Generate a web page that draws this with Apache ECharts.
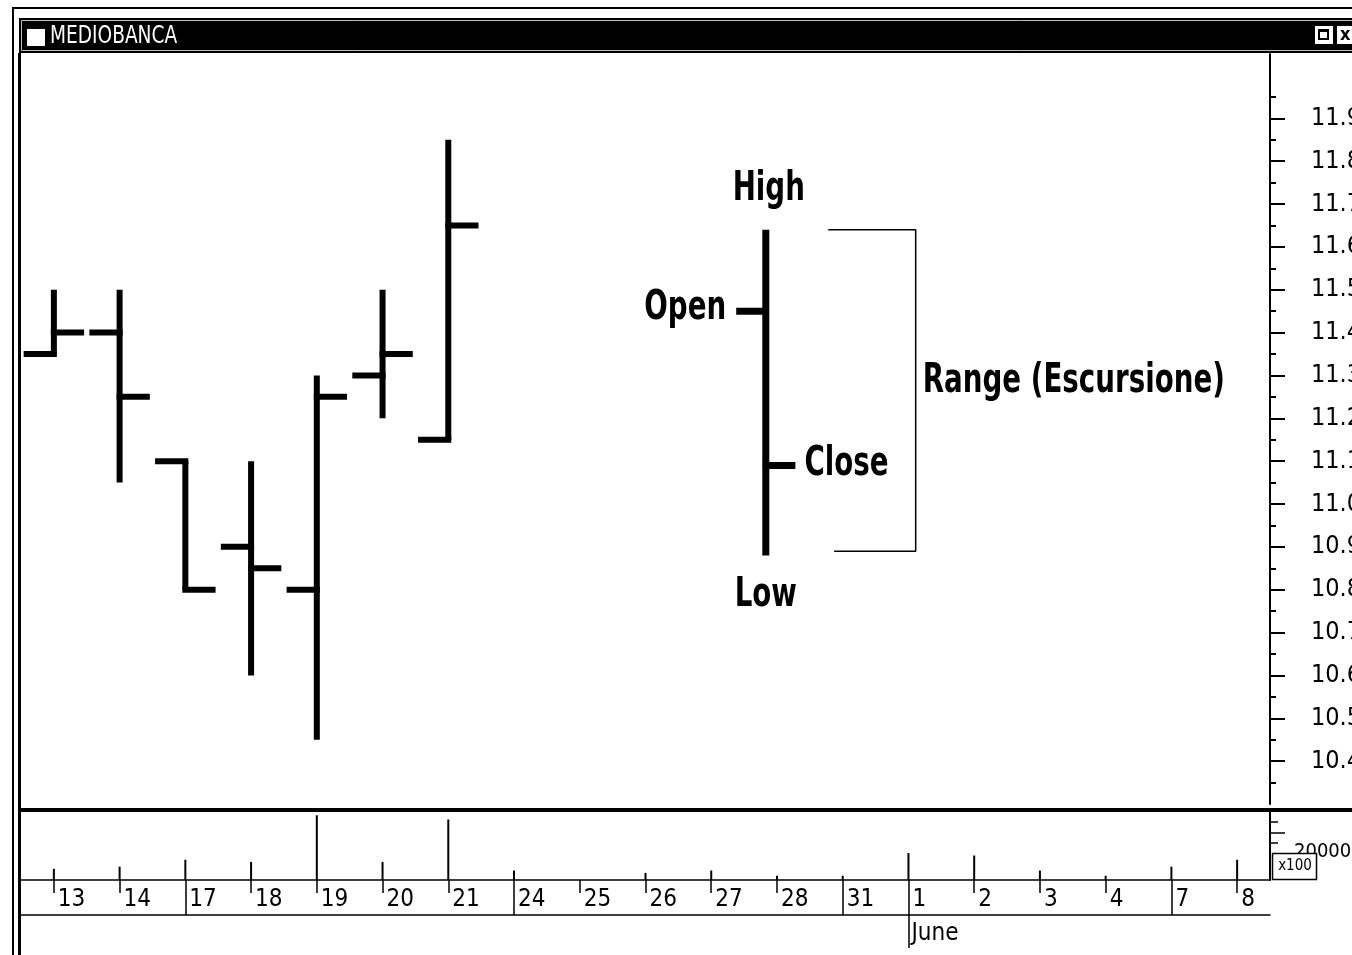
<!DOCTYPE html>
<html><head><meta charset="utf-8">
<script src="https://cdn.jsdelivr.net/npm/echarts@6/dist/echarts.min.js"></script>
<style>html,body{margin:0;padding:0;background:#fff;overflow:hidden}#c{width:1352px;height:955px}</style>
</head><body><div id="c"></div>
<script>
// ---- data ----
const chartTitle = 'MEDIOBANCA';
const dateLabels = ['13','14','17','18','19','20','21','24','25','26','27','28','31','1','2','3','4','7','8'];
const mondayIdx = [2, 7, 12, 17];
const monthStartIdx = [13];
const monthLabels = ['June'];
const barIdx = [0, 1, 2, 3, 4, 5, 6];
const opens  = [11.35, 11.40, 11.10, 10.90, 10.80, 11.30, 11.15];
const highs  = [11.50, 11.50, 11.10, 11.10, 11.30, 11.50, 11.85];
const lows   = [11.35, 11.05, 10.80, 10.60, 10.45, 11.20, 11.15];
const closes = [11.40, 11.25, 10.80, 10.85, 11.25, 11.35, 11.65];
const volumes = [7900, 9400, 14300, 12800, 45700, 12800, 42700, 6700, 0, 5000, 6700, 3000, 3000, 19000, 17300, 6700, 3000, 9400, 14300];
const priceTicks = [10.4, 10.5, 10.6, 10.7, 10.8, 10.9, 11.0, 11.1, 11.2, 11.3, 11.4, 11.5, 11.6, 11.7, 11.8, 11.9];
const volumeLabelTicks = [20000];
const volumeShortTicks = [26000, 40800];
const volumeLongTicks = [33300];
const volumeUnitLabel = 'x100';
// example bar: [x, open, high, low, close]
const exampleBar = [10.83, 11.45, 11.64, 10.88, 11.09];
const exampleNames = ['Open', 'High', 'Low', 'Close'];
const rangeLabel = 'Range (Escursione)';
const bracketX = [11.78, 13.11, 13.11, 11.87];
const bracketY = [11.64, 11.64, 10.89, 10.89];

const NARROW = "'Liberation Sans Narrow','Arial Narrow','DejaVu Sans Condensed',sans-serif";
const minorTicks = priceTicks.map(v => +(v - 0.05).toFixed(2)).concat([11.95]);
const allIdx = dateLabels.map((d, i) => i);

function renderOHLC(params, api) {
  const x = api.value(0);
  const o = api.coord([x, api.value(1)]);
  const h = api.coord([x, api.value(2)]);
  const l = api.coord([x, api.value(3)]);
  const c = api.coord([x, api.value(4)]);
  const w = api.size([1, 0])[0] * 0.46;
  const st = {stroke: '#000', lineWidth: 6};
  return {type: 'group', children: [
    {type: 'line', shape: {x1: h[0], y1: h[1], x2: l[0], y2: l[1]}, style: st},
    {type: 'line', shape: {x1: o[0] - w, y1: o[1], x2: o[0] + 3, y2: o[1]}, style: st},
    {type: 'line', shape: {x1: c[0] - 3, y1: c[1], x2: c[0] + w, y2: c[1]}, style: st}
  ]};
}

function renderExample(params, api) {
  const x = api.value(0);
  const o = api.coord([x, api.value(1)]);
  const h = api.coord([x, api.value(2)]);
  const l = api.coord([x, api.value(3)]);
  const c = api.coord([x, api.value(4)]);
  const w = api.size([1, 0])[0] * 0.45;
  const st = {stroke: '#000', lineWidth: 7};
  const ts = (t, px, py, align) => ({type: 'text', x: px, y: py, scaleX: 0.77, style: {
    text: t, fill: '#000', font: 'bold 40px ' + NARROW, textAlign: align, textVerticalAlign: 'middle'}});
  const br = api.coord([bracketX[1], (bracketY[1] + bracketY[2]) / 2]);
  return {type: 'group', children: [
    {type: 'line', shape: {x1: h[0], y1: h[1], x2: l[0], y2: l[1]}, style: st},
    {type: 'line', shape: {x1: o[0] - w, y1: o[1], x2: o[0] + 3, y2: o[1]}, style: st},
    {type: 'line', shape: {x1: c[0] - 3, y1: c[1], x2: c[0] + w, y2: c[1]}, style: st},
    ts(exampleNames[1], h[0] + 3, h[1] - 40, 'center'),
    ts(exampleNames[0], o[0] - w - 10, o[1] - 3, 'right'),
    ts(exampleNames[3], c[0] + w + 9, c[1] - 1, 'left'),
    ts(exampleNames[2], l[0], l[1] + 40, 'center'),
    ts(rangeLabel, br[0] + 7, br[1] - 9, 'left')
  ]};
}

const chart = echarts.init(document.getElementById('c'), null, {renderer: 'canvas'});
const blackLine = {show: true, onZero: false, lineStyle: {color: '#000', width: 2}};
const thinLine = {show: true, onZero: false, lineStyle: {color: '#000', width: 1.5}};
const noLine = {show: false, onZero: false};
chart.setOption({
  animation: false,
  backgroundColor: '#fff',
  grid: [
    {left: 21, top: 54, width: 1249, height: 750, outerBoundsMode: 'none', containLabel: false},
    {left: 21, top: 812, width: 1249, height: 68, outerBoundsMode: 'none', containLabel: false}
  ],
  xAxis: [
    {gridIndex: 0, type: 'value', min: -0.5, max: 18.5, axisLine: noLine, axisTick: {show: false},
      axisLabel: {show: false}, splitLine: {show: false}},
    {gridIndex: 1, type: 'value', min: -0.5, max: 18.5, position: 'bottom',
      axisLine: thinLine, splitLine: {show: false},
      axisTick: {show: true, customValues: allIdx, length: 13, lineStyle: {color: '#000', width: 1.5}},
      axisLabel: {show: true, customValues: allIdx, formatter: v => dateLabels[Math.round(v)],
        align: 'left', padding: [0, 0, 0, 4], margin: 8, fontSize: 24, fontFamily: NARROW, color: '#000'}},
    {gridIndex: 1, type: 'value', min: -0.5, max: 18.5, position: 'bottom',
      axisLine: noLine, splitLine: {show: false}, axisLabel: {show: false},
      axisTick: {show: true, customValues: mondayIdx, length: 35, lineStyle: {color: '#000', width: 1.5}}},
    {gridIndex: 1, type: 'value', min: -0.5, max: 18.5, position: 'bottom',
      axisLine: noLine, splitLine: {show: false},
      axisTick: {show: true, customValues: monthStartIdx, length: 68, lineStyle: {color: '#000', width: 1.5}},
      axisLabel: {show: true, customValues: monthStartIdx, formatter: () => monthLabels[0],
        align: 'left', padding: [0, 0, 0, 3], margin: 42, fontSize: 24, fontFamily: NARROW, color: '#000'}},
    {gridIndex: 1, type: 'value', min: -0.5, max: 18.5, position: 'bottom', offset: 35,
      axisLine: thinLine, axisTick: {show: false}, axisLabel: {show: false}, splitLine: {show: false}}
  ],
  yAxis: [
    {gridIndex: 0, type: 'value', position: 'right', min: 10.3, max: 12.05,
      axisLine: blackLine, splitLine: {show: false},
      axisTick: {show: true, customValues: priceTicks, length: 15, lineStyle: {color: '#000', width: 2}},
      axisLabel: {show: true, customValues: priceTicks, formatter: v => v.toFixed(1), margin: 41,
        padding: [6, 0, 0, 0], fontSize: 25, fontFamily: NARROW, color: '#000'}},
    {gridIndex: 0, type: 'value', position: 'right', min: 10.3, max: 12.05,
      axisLine: noLine, splitLine: {show: false}, axisLabel: {show: false},
      axisTick: {show: true, customValues: minorTicks, length: 6, lineStyle: {color: '#000', width: 2}}},
    {gridIndex: 1, type: 'value', position: 'right', min: 0, max: 48000,
      axisLine: blackLine, splitLine: {show: false},
      axisTick: {show: true, customValues: volumeShortTicks, length: 8, lineStyle: {color: '#000', width: 1.5}},
      axisLabel: {show: true, customValues: volumeLabelTicks, formatter: v => String(v), margin: 24,
        padding: [12, 0, 0, 0], fontSize: 20, fontFamily: NARROW, color: '#000'}},
    {gridIndex: 1, type: 'value', position: 'right', min: 0, max: 48000,
      axisLine: noLine, splitLine: {show: false}, axisLabel: {show: false},
      axisTick: {show: true, customValues: volumeLongTicks, length: 15, lineStyle: {color: '#000', width: 1.5}}}
  ],
  series: [
    {type: 'custom', name: 'OHLC', xAxisIndex: 0, yAxisIndex: 0, renderItem: renderOHLC,
      encode: {x: 0, y: [1, 2, 3, 4]}, clip: false,
      data: barIdx.map((x, i) => [x, opens[i], highs[i], lows[i], closes[i]])},
    {type: 'custom', name: 'Example', xAxisIndex: 0, yAxisIndex: 0, renderItem: renderExample,
      encode: {x: 0, y: [1, 2, 3, 4]}, clip: false, data: [exampleBar]},
    {type: 'line', name: 'Range', xAxisIndex: 0, yAxisIndex: 0, symbol: 'none',
      lineStyle: {color: '#000', width: 1.5}, data: bracketX.map((x, i) => [x, bracketY[i]])},
    {type: 'bar', name: 'Volume', xAxisIndex: 1, yAxisIndex: 2, barWidth: 2,
      itemStyle: {color: '#000'}, data: allIdx.map((x, i) => [x, volumes[i]])}
  ],
  graphic: [
    // outer window border
    {type: 'rect', z: 1, shape: {x: 12, y: 7, width: 1340, height: 2}, style: {fill: '#000'}},
    {type: 'rect', z: 1, shape: {x: 12, y: 7, width: 2, height: 948}, style: {fill: '#000'}},
    // title bar
    {type: 'rect', z: 1, shape: {x: 19, y: 18, width: 1333, height: 35}, style: {fill: '#000'}},
    {type: 'rect', z: 2, shape: {x: 21.5, y: 20.5, width: 1331, height: 30}, style: {fill: 'none', stroke: '#bdbdbd', lineWidth: 1}},
    {type: 'rect', z: 2, shape: {x: 27, y: 29, width: 18, height: 17}, style: {fill: '#fff'}},
    {type: 'text', z: 3, x: 50, y: 37, scaleX: 0.86, style: {text: chartTitle, font: '24px ' + NARROW, fill: '#fff', textVerticalAlign: 'middle'}},
    {type: 'rect', z: 2, shape: {x: 1315, y: 26, width: 18, height: 18}, style: {fill: '#fff'}},
    {type: 'rect', z: 3, shape: {x: 1318, y: 29, width: 11, height: 11}, style: {fill: '#000'}},
    {type: 'rect', z: 4, shape: {x: 1320, y: 32, width: 7, height: 6}, style: {fill: '#fff'}},
    {type: 'rect', z: 2, shape: {x: 1337, y: 26, width: 18, height: 18}, style: {fill: '#fff'}},
    {type: 'text', z: 3, x: 1340, y: 35, style: {text: 'x', font: 'bold 18px ' + NARROW, fill: '#000', textVerticalAlign: 'middle'}},
    // panel left border
    {type: 'rect', z: 1, shape: {x: 18, y: 53, width: 3, height: 902}, style: {fill: '#000'}},
    // separator between price and volume panels
    {type: 'rect', z: 1, shape: {x: 18, y: 808, width: 1334, height: 4}, style: {fill: '#000'}},
    // x100 box
    {type: 'rect', z: 50, shape: {x: 1272.5, y: 853.5, width: 44, height: 26}, style: {fill: '#fff', stroke: '#000', lineWidth: 1.5}},
    {type: 'text', z: 51, x: 1295, y: 866, style: {text: volumeUnitLabel, font: '15px ' + NARROW, fill: '#000', textAlign: 'center', textVerticalAlign: 'middle'}}
  ]
});
</script></body></html>
